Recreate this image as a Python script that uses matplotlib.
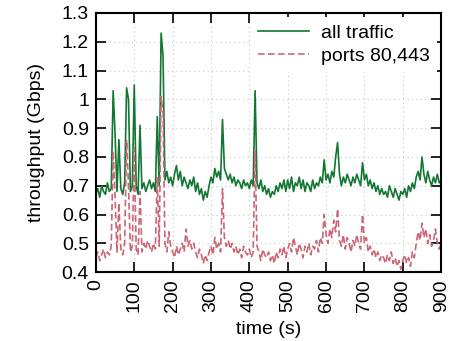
import numpy as np
import matplotlib
matplotlib.use("Agg")
import matplotlib.pyplot as plt

time_s = np.arange(0, 905, 5)

all_traffic = [
    0.67, 0.69, 0.66, 0.70, 0.68, 0.67, 0.71, 0.68, 0.69, 1.03,
    0.88, 0.68, 0.86, 0.69, 0.67, 0.71, 1.04, 1.00, 0.68, 0.70,
    1.05, 0.70, 0.67, 0.91, 0.69, 0.71, 0.68, 0.70, 0.72, 0.69,
    0.71, 0.68, 0.94, 0.70, 1.23, 1.15, 0.72, 0.75, 0.71, 0.73,
    0.70, 0.74, 0.77, 0.72, 0.75, 0.70, 0.73, 0.71, 0.69, 0.72,
    0.70, 0.73, 0.68, 0.71, 0.67, 0.69, 0.65, 0.68, 0.66, 0.70,
    0.73, 0.71, 0.76, 0.73, 0.75, 0.72, 0.93, 0.76, 0.74, 0.72,
    0.74, 0.71, 0.73, 0.70, 0.72, 0.71, 0.69, 0.72, 0.70, 0.71,
    0.69, 0.72, 0.70, 1.03, 0.71, 0.69, 0.72, 0.68, 0.70, 0.67,
    0.69, 0.66, 0.68, 0.67, 0.70, 0.68, 0.71, 0.69, 0.72, 0.68,
    0.72, 0.69, 0.73, 0.68, 0.71, 0.70, 0.73, 0.69, 0.72, 0.68,
    0.71, 0.70, 0.68, 0.72, 0.69, 0.71, 0.70, 0.73, 0.71, 0.79,
    0.72, 0.74, 0.71, 0.75, 0.73, 0.80, 0.85, 0.74, 0.70, 0.73,
    0.71, 0.74, 0.72, 0.70, 0.73, 0.71, 0.74, 0.72, 0.70, 0.78,
    0.72, 0.74, 0.70, 0.72, 0.69, 0.71, 0.68, 0.70, 0.67, 0.69,
    0.67, 0.68, 0.66, 0.70, 0.68, 0.66, 0.69, 0.67, 0.65, 0.68,
    0.67, 0.69, 0.66, 0.70, 0.68, 0.71, 0.69, 0.73, 0.75, 0.72,
    0.80, 0.74, 0.71, 0.75, 0.72, 0.70, 0.73, 0.71, 0.74, 0.71,
    0.72,
]

ports_80_443 = [
    0.45, 0.47, 0.44, 0.46, 0.48, 0.45, 0.47, 0.46, 0.49, 0.82,
    0.66, 0.47, 0.64, 0.48, 0.46, 0.50, 0.86, 0.70, 0.47, 0.49,
    0.83, 0.48, 0.46, 0.68, 0.47, 0.50, 0.48, 0.51, 0.49, 0.47,
    0.50, 0.48, 0.73, 0.49, 1.01, 0.95, 0.50, 0.47, 0.54, 0.49,
    0.47, 0.45, 0.49, 0.46, 0.48, 0.50, 0.47, 0.55, 0.49, 0.51,
    0.48, 0.50, 0.47, 0.45, 0.48, 0.46, 0.43, 0.46, 0.44, 0.47,
    0.49, 0.46, 0.52, 0.48, 0.50, 0.47, 0.69, 0.52, 0.49, 0.51,
    0.48, 0.50, 0.47, 0.49, 0.46, 0.48, 0.45, 0.49, 0.47, 0.46,
    0.48, 0.45, 0.47, 0.82, 0.49, 0.47, 0.44, 0.48, 0.46, 0.45,
    0.47, 0.44, 0.46, 0.43, 0.47, 0.45, 0.48, 0.46, 0.49, 0.45,
    0.48, 0.50, 0.47, 0.52, 0.49, 0.46, 0.50, 0.48, 0.45, 0.49,
    0.47, 0.50, 0.46, 0.49, 0.48, 0.51, 0.47, 0.52, 0.50, 0.60,
    0.53, 0.50, 0.55, 0.52, 0.58, 0.54, 0.62, 0.51, 0.49, 0.53,
    0.48, 0.52, 0.50, 0.47, 0.51, 0.49, 0.53, 0.50, 0.48, 0.60,
    0.50, 0.52, 0.47, 0.49, 0.46, 0.48, 0.45, 0.47, 0.44, 0.46,
    0.45, 0.43, 0.46, 0.44, 0.47, 0.43, 0.45, 0.42, 0.44, 0.41,
    0.44, 0.46, 0.43, 0.45, 0.42, 0.47, 0.45, 0.50, 0.54, 0.51,
    0.57, 0.52, 0.55, 0.50, 0.53, 0.49, 0.51, 0.55, 0.50, 0.48,
    0.50,
]

plt.rcParams['font.family'] = ['Liberation Sans', 'DejaVu Sans']
plt.rcParams['font.size'] = 14

fig = plt.figure(figsize=(4.61, 3.41), dpi=100)
ax = fig.add_axes([0.208, 0.202, 0.749, 0.760])

ax.plot(time_s, all_traffic, color='#117733', lw=1.2, label='all traffic')
ax.plot(time_s, ports_80_443, color='#CC6677', lw=1.2, ls=(0, (4, 2)),
        label='ports 80,443')

ax.set_xlim(0, 900)
ax.set_ylim(0.4, 1.3)
ax.set_xticks(np.arange(0, 901, 100))
ax.set_yticks(np.round(np.arange(0.4, 1.31, 0.1), 1))
ax.set_yticklabels(['0.4', '0.5', '0.6', '0.7', '0.8', '0.9', '1', '1.1', '1.2', '1.3'])
ax.tick_params(axis='x', labelrotation=90)
ax.tick_params(direction='in', top=True, right=True, length=7, width=1.2, pad=5)
ax.grid(True, ls=(0, (1, 3)), color='#c8c8c8', lw=0.8)
for s in ax.spines.values():
    s.set_linewidth(1.5)

ax.set_xlabel('time (s)')
ax.xaxis.set_label_coords(0.5, -0.19)
ax.set_ylabel('throughput (Gbps)', labelpad=12)

leg = ax.legend(loc='upper right', frameon=True, framealpha=1, edgecolor='none',
                fancybox=False, handlelength=2.6, borderaxespad=0.2,
                labelspacing=0.25, handletextpad=0.6)
leg.get_frame().set_linewidth(0)

fig.savefig('out.png', dpi=100)
